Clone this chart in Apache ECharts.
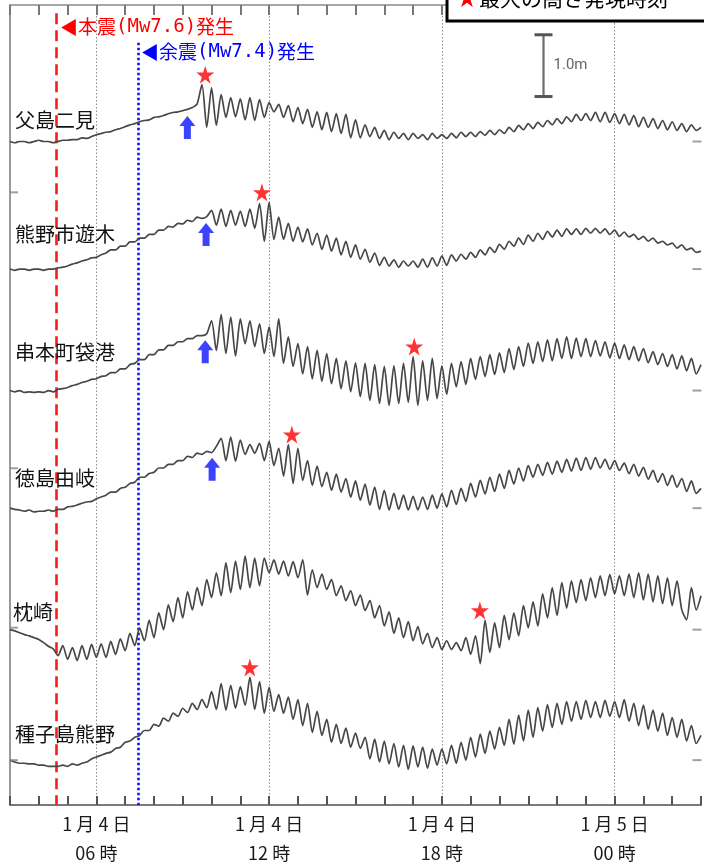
<!DOCTYPE html>
<html><head><meta charset="utf-8">
<script src="https://cdn.jsdelivr.net/npm/echarts@6/dist/echarts.min.js"></script>
<style>html,body{margin:0;padding:0;background:#fff}#c{width:704px;height:868px}</style>
</head><body><div id="c"></div>
<script>
// ---------------- DATA ----------------
const stations = ['父島二見', '熊野市遊木', '串本町袋港', '徳島由岐', '枕崎', '種子島熊野'];
const startHour = 3;      // 1月4日 03時
const stepMin = 10;       // sampling step (minutes)
// sea-level anomaly (cm), every 10 minutes from 03:00 Jan 4 to 03:00 Jan 5
const chichijima = [0,-2,0,0,-2,0,2,0,0,-2, 0,2,2,3,3,6,5,8,11,13, 15,16,19,21,24,27,29,32,34,35, 39,40,42,45,47,48,50,52,55,61,
 92,23,87,26,76,39,71,40,69,35, 71,34,68,39,63,48,60,39,58,32, 55,29,52,23,48,19,47,16,45,13, 44,6,35,6,27,8,23,5,18,3,
 15,5,13,3,13,5,11,3,13,5, 11,5,13,6,15,8,15,8,16,10, 18,11,19,13,23,16,26,19,29,21, 31,24,34,27,37,29,40,32,44,34,
 45,34,47,32,47,31,45,29,44,27, 42,24,39,23,37,21,34,19,32,18, 29,16,27,18,23];
const kumano = [0,-2,0,0,-2,0,0,-2,0,0, 2,3,5,8,10,13,15,18,19,23,
 26,31,31,37,37,44,44,50,50,56, 56,63,63,69,68,74,73,79,77,84, 82,
 85,95,71,97,69,95,71,94,69,97, 66,106,45,108,48,84,48,74,45,68,
 44,65,39,58,32,55,29,50,23,45, 19,39,16,32,11,26,6,19,5,15,
 3,13,5,13,3,16,3,18,5,21, 6,23,13,24,16,27,19,31,23,35,
 27,40,32,45,37,50,40,55,45,58, 48,61,52,63,53,65,56,65,56,66,
 58,66,58,65,56,63,53,60,52,56, 48,53,45,50,42,45,39,42,34,39, 31,34,27,29];
const kushimoto = [0,-2,0,-3,-2,-3,-2,-3,0,-2, 2,3,5,8,10,13,15,18,19,23,
 24,29,29,35,35,42,44,50,50,58, 58,66,66,73,73,79,79,84,84,89, 89,92,
 113,65,123,60,119,56,116,76,113,71, 108,60,103,55,116,44,87,39,76,27,
 71,19,65,15,60,11,52,3,48,-2, 45,-10,44,-16,42,-21,39,-24,40,-21,
 44,-19,55,-24,48,-16,52,-13,40,-6, 44,6,47,10,52,18,55,23,58,26,
 61,29,68,34,71,39,77,44,79,47, 82,48,84,52,87,52,85,55,84,55,
 81,56,79,53,77,52,74,50,71,48, 68,45,63,42,60,39,58,35,56,32, 52,27,42];
const tokushima = [0,-2,-3,-5,-3,-6,-5,-5,-3,-5, -2,-2,2,3,5,8,10,11,15,18,
 21,26,26,32,34,40,42,50,50,56, 58,65,65,71,71,77,77,84,82,89, 87,92,90,
 100,113,77,115,76,110,87,103,89,105, 77,108,69,97,52,103,40,97,45,77,
 37,68,35,58,29,55,26,48,18,44, 13,39,5,34,-2,29,-3,24,-2,21,
 -3,19,-3,18,-2,21,0,23,2,29, 6,32,11,40,18,45,23,50,27,55,
 32,61,39,65,44,69,50,71,53,74, 55,76,58,79,60,81,61,82,63,82,
 65,79,63,77,61,73,56,71,52,66, 47,61,42,56,37,53,34,48,27,44, 24,32];
const makurazaki = [0,-2,-5,-8,-10,-13,-16,-21,-27,-31, -42,-26,-48,-29,-50,-26,-48,-24,-45,-23,
 -45,-19,-40,-15,-34,-6,-26,3,-18,15, -13,27,0,40,13,52,19,61,32,68,
 39,81,52,92,55,108,60,111,65,119, 68,116,71,116,92,113,90,111,87,110,
 84,113,56,97,68,90,65,81,55,71, 47,63,39,56,31,47,19,39,6,29,
 -6,19,-13,13,-18,5,-23,-6,-29,-13, -32,-18,-32,-21,-34,-13,-40,-10,-55,15,
 -37,11,-29,23,-16,27,-10,39,3,45, 6,58,19,68,23,76,35,79,44,81,
 47,84,52,87,55,89,58,87,55,90, 52,92,48,90,45,87,42,84,39,79, 32,16,68,32,55];
const tanegashima = [0,-3,-5,-5,-6,-6,-8,-8,-10,-10, -10,-8,-10,-6,-8,-5,-3,2,5,8,
 11,13,19,21,29,31,37,40,48,48, 58,55,68,63,76,71,84,77,92,82,
 98,85,111,82,124,81,121,84,119,89, 134,82,127,76,118,79,106,76,102,66,
 98,56,92,45,79,40,66,29,58,27, 52,21,44,19,37,2,34,-3,31,-6,
 27,-11,24,-15,23,-11,21,-13,18,-8, 18,-6,24,-5,29,0,37,5,42,11,
 47,18,53,24,66,26,73,31,81,37, 85,47,90,53,92,58,95,63,95,66,
 97,69,95,69,97,71,95,69,98,63, 92,56,89,50,81,47,76,40,69,37, 66,31,56,27,40];
const seriesValues = [chichijima, kumano, kushimoto, tokushima, makurazaki, tanegashima];

// time axis tick labels (hour -> lines)
const tickHours = [6, 12, 18, 24];
const tickDates = ['1 月 4 日', '1 月 4 日', '1 月 4 日', '1 月 5 日'];
const tickTimes = ['06 時', '12 時', '18 時', '00 時'];
const hourTicks = [4,5,6,7,8,9,10,11,12,13,14,15,16,17,18,19,20,21,22,23,24,25,26];

// earthquakes
const eventTimes = [4.6, 7.46];
const eventNames = ['本震', '余震'];
const eventMw = ['(Mw7.6)', '(Mw7.4)'];

// maximum height (star): time (h) and height (cm) per station
const maxTimes = [9.78, 11.75, 17.04, 12.79, 19.32, 11.33];
const maxHeights = [92, 108, 55, 103, 15, 134];

// tsunami arrival (blue arrows) for first four stations
const arrivalTimes = [9.16, 9.81, 9.78, 10.02];
const arrivalLevels = [52, 85, 92, 92];

const legendText = '最大の高さ発現時刻';
const scaleLength = 1.0; // m
const scaleText = '1.0m';

// ---------------- LAYOUT ----------------
const offsets = [10.742, 8.677, 6.710, 4.806, 2.839, 0.726]; // station baselines (m on stacked axis)
const yMax = 12.952;
const pxPerM = 62;
const labelPos = [[15, 120], [15, 234], [15, 352], [15, 478], [13, 612], [15, 734]];
const leftTicks = [9.919, 5.452, 2.871, 0.726];
const scaleBarPos = [21.53, 12.47];

const times = chichijima.map((_, i) => startHour + i * stepMin / 60);
const JP = '"Noto Sans CJK JP", sans-serif';

const lineSeries = seriesValues.map((vals, s) => ({
  type: 'line', name: stations[s], showSymbol: false, smooth: 0.25,
  lineStyle: { color: '#474747', width: 1.7 }, z: 3, silent: true,
  data: vals.map((v, i) => [times[i], offsets[s] + v / 100])
}));

const tickStyleB = { color: '#555', type: 'solid', width: 2 };
const tickStyleT = { color: '#777', type: 'solid', width: 2 };
lineSeries[0].markLine = {
  silent: true, symbol: 'none', label: { show: false }, z: 1, animation: false,
  data: tickHours.map(h => ({ xAxis: h, lineStyle: { color: '#8c8c8c', type: [1.5, 2], width: 1 } }))
    .concat(hourTicks.map(h => [{ coord: [h, 0], lineStyle: tickStyleB }, { coord: [h, 9 / pxPerM] }]))
    .concat(hourTicks.map(h => [{ coord: [h, yMax], lineStyle: tickStyleT }, { coord: [h, yMax - 10 / pxPerM] }]))
    .concat([
      [{ coord: [eventTimes[0], 12.82], lineStyle: { color: '#ff1a1a', type: [11, 6], width: 2.6 } }, { coord: [eventTimes[0], 0] }],
      [{ coord: [eventTimes[1], 12.34], lineStyle: { color: '#1010ff', type: [2.5, 2.5], width: 2.6 } }, { coord: [eventTimes[1], 0] }]
    ])
};

const starPath = 'path://M50,0 L61,35 L98,35 L68,57 L79,91 L50,70 L21,91 L32,57 L2,35 L39,35 Z';
const arrowPath = 'path://M8,0 L16,10 L11.5,10 L11.5,23 L4.5,23 L4.5,10 L0,10 Z';

const option = {
  animation: false,
  backgroundColor: '#fff',
  grid: { left: 10, top: 5, right: -2, bottom: 60, containLabel: false },
  xAxis: [{
    type: 'value', min: 3, max: 27, interval: 1, position: 'bottom',
    axisLine: { show: true, onZero: false, lineStyle: { color: '#7a7a7a', width: 2 } },
    axisTick: { show: true, inside: true, length: 9, lineStyle: { color: '#555', width: 2 } },
    splitLine: { show: false },
    axisLabel: {
      margin: 5, fontSize: 18, lineHeight: 29, color: '#1a1a1a', fontFamily: JP,
      formatter: v => { const k = tickHours.indexOf(v); return k < 0 ? '' : tickDates[k] + '\n' + tickTimes[k]; }
    }
  }, {
    type: 'value', min: 3, max: 27, interval: 1, position: 'top',
    axisLine: { show: true, onZero: false, lineStyle: { color: '#a8a8a8', width: 2 } },
    axisTick: { show: true, inside: true, length: 10, lineStyle: { color: '#777', width: 2 } },
    axisLabel: { show: false }, splitLine: { show: false }
  }],
  yAxis: {
    type: 'value', min: 0, max: yMax,
    axisLine: { show: true, onZero: false, lineStyle: { color: '#9a9a9a', width: 2 } },
    axisTick: { show: false }, axisLabel: { show: false }, splitLine: { show: false }
  },
  series: lineSeries.concat([
    {
      type: 'scatter', silent: true, z: 5, symbol: starPath, symbolSize: 18,
      symbolOffset: [0, -10], itemStyle: { color: '#ff0000' },
      data: maxTimes.map((t, s) => [t, offsets[s] + maxHeights[s] / 100])
    },
    {
      type: 'scatter', silent: true, z: 5, symbol: arrowPath, symbolSize: [16, 23],
      symbolOffset: [0, 18], itemStyle: { color: '#0a14ff' },
      data: arrivalTimes.map((t, s) => [t, offsets[s] + arrivalLevels[s] / 100])
    },
    {
      type: 'scatter', silent: true, z: 4, symbol: 'rect', symbolSize: [9, 2],
      symbolOffset: [-4, 0], itemStyle: { color: '#888' },
      data: offsets.map(o => [27, o])
    },
    {
      type: 'scatter', silent: true, z: 4, symbol: 'rect', symbolSize: [8, 2],
      symbolOffset: [4, 0], itemStyle: { color: '#888' },
      data: leftTicks.map(o => [3, o])
    },
    {
      type: 'custom', silent: true, z: 5,
      data: [[scaleBarPos[0], scaleBarPos[1], scaleLength]],
      renderItem: (params, api) => {
        const top = api.coord([api.value(0), api.value(1)]);
        const bot = api.coord([api.value(0), api.value(1) - api.value(2)]);
        const st = { stroke: '#6e6e6e', lineWidth: 2.2 };
        return { type: 'group', children: [
          { type: 'line', shape: { x1: top[0], y1: top[1], x2: bot[0], y2: bot[1] }, style: st },
          { type: 'line', shape: { x1: top[0] - 9, y1: top[1], x2: top[0] + 9, y2: top[1] }, style: { stroke: '#555', lineWidth: 3 } },
          { type: 'line', shape: { x1: bot[0] - 9, y1: bot[1], x2: bot[0] + 9, y2: bot[1] }, style: { stroke: '#555', lineWidth: 3 } },
          { type: 'text', style: { x: top[0] + 10, y: (top[1] + bot[1]) / 2, text: scaleText, fill: '#666',
            font: '15px Roboto, sans-serif', verticalAlign: 'middle' } }
        ] };
      }
    }
  ]),
  graphic: [
    { type: 'rect', z: 10, shape: { x: 447, y: -30, width: 300, height: 51 },
      style: { fill: '#fff', stroke: '#000', lineWidth: 3 } },
    { type: 'text', z: 11, style: { x: 457, y: -2, text: '★', fill: '#ff0000', font: '20px ' + JP, verticalAlign: 'middle' } },
    { type: 'text', z: 11, style: { x: 479, y: -2, text: legendText, fill: '#000', font: '21px ' + JP, verticalAlign: 'middle' } }
  ].concat(stations.map((n, s) => ({
    type: 'text', z: 6, style: { x: labelPos[s][0], y: labelPos[s][1], text: n, fill: '#111',
      font: '20px ' + JP, verticalAlign: 'middle' }
  }))).concat([0, 1].map(k => ({
    type: 'text', z: 6,
    style: {
      x: k === 0 ? 60 : 141, y: k === 0 ? 27 : 52, verticalAlign: 'middle',
      text: '{t|◀}{j|' + eventNames[k] + '}{m|' + eventMw[k] + '}{j|発生}',
      rich: {
        t: { fontSize: 18, fill: k === 0 ? '#ff0000' : '#0000ff', fontFamily: JP },
        j: { fontSize: 19, fill: k === 0 ? '#ff0000' : '#0000ff', fontFamily: JP },
        m: { fontSize: 19, fill: k === 0 ? '#ff0000' : '#0000ff', fontFamily: '"DejaVu Sans Mono", monospace' }
      }
    }
  })))
};

const chart = echarts.init(document.getElementById('c'), null, { renderer: 'canvas' });
chart.setOption(option);
</script>
</body></html>
